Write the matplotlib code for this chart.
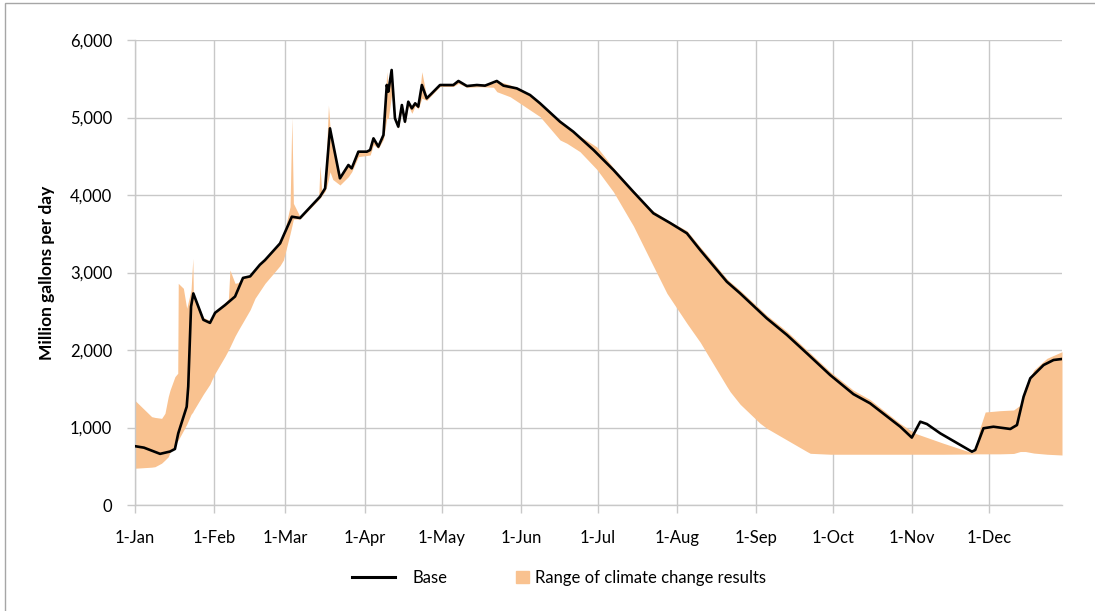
import matplotlib
matplotlib.use("Agg")
import matplotlib.pyplot as plt
from matplotlib.lines import Line2D
from matplotlib.patches import Rectangle, Patch
from matplotlib.ticker import FuncFormatter

plt.rcParams['font.family'] = ['Lato', 'DejaVu Sans']

# x = day of year (0 = 1-Jan)
month_days = [0, 31, 59, 90, 120, 151, 181, 212, 243, 273, 304, 334]
month_labels = ["1-Jan", "1-Feb", "1-Mar", "1-Apr", "1-May", "1-Jun",
                "1-Jul", "1-Aug", "1-Sep", "1-Oct", "1-Nov", "1-Dec"]

# ---base case flow
base_days = [0, 3.7, 10.0, 13.9, 15.8, 17.1, 20.4, 21.0, 22.1, 23.0,
             26.9, 29.5, 31.5, 35.4, 39.3, 42.4, 45.2, 49.0, 51.0, 56.9,
             61.5, 64.7, 72.5, 74.5, 76.4, 80.3, 83.6, 84.9, 87.5, 90.8,
             92.1, 93.4, 95.3, 97.3, 98.6, 99.2, 100.5, 101.8, 103.1, 104.5,
             105.7, 107.0, 108.4, 109.7, 110.9, 112.3, 114.2, 116.2, 119.4, 124.6,
             126.6, 129.9, 133.8, 137.0, 141.6, 144.2, 149.4, 154.6, 158.5, 166.3,
             171.5, 179.4, 187.2, 195.0, 202.8, 209.3, 215.9, 221.1, 231.5, 236.7,
             247.1, 255.0, 262.8, 271.9, 281.0, 287.5, 299.3, 303.8, 307.1, 309.7,
             314.9, 327.3, 328.6, 331.8, 335.7, 342.3, 344.9, 347.5, 350.1, 355.3,
             359.2, 362.5]
base_flow = [760, 740, 660, 690, 723, 925, 1268, 1527, 2560, 2730,
             2390, 2350, 2480, 2580, 2690, 2930, 2950, 3100, 3160, 3376,
             3720, 3703, 3978, 4086, 4860, 4215, 4387, 4344, 4559, 4559,
             4581, 4731, 4624, 4774, 5420, 5333, 5613, 4989, 4882, 5161,
             4946, 5204, 5118, 5183, 5140, 5419, 5247, 5312, 5419, 5419,
             5471, 5406, 5419, 5411, 5471, 5411, 5376, 5290, 5183, 4946,
             4817, 4581, 4323, 4040, 3764, 3640, 3506, 3290, 2881, 2731,
             2409, 2194, 1957, 1677, 1430, 1312, 1010, 870, 1075, 1045,
             925, 688, 710, 990, 1010, 981, 1032, 1398, 1635, 1806,
             1871, 1884]

# ---range of climate change results
band_days = [0, 6.7, 8.0, 10.6, 11.9, 13.2, 13.9, 15.8, 16.9, 17.1,
             19.1, 20.4, 22.1, 22.8, 23.0, 26.9, 29.5, 30.2, 31.5, 35.4,
             36.7, 37.3, 39.3, 40.6, 42.4, 45.2, 47.1, 51.0, 54.9, 56.9,
             58.2, 60.8, 61.5, 62.1, 64.7, 72.0, 72.5, 73.2, 74.5, 75.1,
             75.8, 76.4, 77.5, 80.3, 83.6, 84.9, 87.5, 90.8, 92.1, 93.4,
             95.3, 97.3, 98.6, 99.2, 100.5, 101.8, 103.1, 104.5, 105.7, 107.0,
             108.4, 109.7, 110.9, 112.3, 114.2, 116.2, 119.4, 124.6, 126.6, 129.9,
             135.0, 140.3, 141.6, 146.8, 150.7, 154.6, 158.5, 166.3, 169.0, 174.1,
             180.7, 187.2, 195.0, 201.6, 208.1, 215.9, 221.1, 223.7, 231.5, 232.8,
             236.7, 244.5, 247.1, 255.0, 262.8, 264.1, 271.9, 281.0, 287.5, 299.3,
             305.1, 316.2, 327.3, 328.5, 330.5, 332.5, 338.3, 343.6, 346.2, 348.2,
             351.5, 356.6, 362.5]
band_low = [474, 488, 494, 540, 580, 623, 680, 780, 830, 839,
            960, 1040, 1170, 1200, 1215, 1430, 1560, 1613, 1700, 1920,
            2000, 2040, 2180, 2258, 2360, 2520, 2667, 2860, 3011, 3090,
            3161, 3500, 3600, 3690, 3690, 3940, 3960, 3990, 4050, 4108,
            4200, 4300, 4200, 4129, 4237, 4300, 4495, 4510, 4516, 4650,
            4600, 4720, 4989, 4989, 5300, 4960, 4860, 5100, 4920, 5150,
            5054, 5150, 5110, 5250, 5220, 5290, 5400, 5400, 5440, 5390,
            5397, 5390, 5333, 5268, 5183, 5097, 5011, 4710, 4667, 4559,
            4330, 4040, 3600, 3161, 2731, 2344, 2100, 1957, 1530, 1462,
            1300, 1054, 990, 839, 690, 667, 655, 655, 655, 655,
            655, 655, 658, 660, 660, 660, 660, 665, 690, 690,
            670, 655, 645]
band_high = [1355, 1140, 1130, 1118, 1183, 1400, 1484, 1656, 1700, 2860,
             2796, 2538, 2774, 3183, 2731, 2420, 2380, 2420, 2500, 2610,
             2660, 3032, 2860, 2870, 2950, 2970, 3020, 3180, 3300, 3390,
             3470, 3849, 5000, 3892, 3720, 3980, 4380, 4040, 4100, 4600,
             5160, 4880, 4600, 4230, 4400, 4360, 4575, 4575, 4600, 4745,
             4640, 4790, 5591, 5350, 5620, 5000, 4900, 5170, 4960, 5210,
             5130, 5190, 5150, 5591, 5260, 5330, 5430, 5430, 5480, 5420,
             5430, 5440, 5475, 5420, 5370, 5300, 5200, 4960, 4880, 4760,
             4620, 4350, 4060, 3820, 3680, 3540, 3330, 3230, 2920, 2880,
             2770, 2530, 2450, 2240, 2000, 1960, 1720, 1480, 1360, 1050,
             925, 796, 675, 700, 1000, 1200, 1217, 1226, 1290, 1527,
             1742, 1892, 1978]

fig = plt.figure(figsize=(10.95, 6.11), dpi=100)
ax = fig.add_axes([134.5 / 1095, 106 / 611, (1062 - 134.5) / 1095, (505 - 40) / 611])

band_color = '#F9C290'
grid_color = '#C8C8C8'

ax.fill_between(band_days, band_low, band_high, color=band_color, lw=0, zorder=2)
ax.plot(base_days, base_flow, color='black', lw=1.9, zorder=3)

ax.set_xlim(0, 362.5)
ax.set_ylim(0, 6000)
ax.set_xticks(month_days)
ax.set_xticklabels(month_labels)
ax.set_yticks(range(0, 6001, 1000))
ax.yaxis.set_major_formatter(FuncFormatter(lambda v, p: f"{int(v):,}"))

ax.grid(True, color=grid_color, lw=1.0, zorder=0)
ax.set_axisbelow(True)
for s in ['top', 'right']:
    ax.spines[s].set_visible(False)
for s in ['left', 'bottom']:
    ax.spines[s].set_color(grid_color)
    ax.spines[s].set_linewidth(1.0)
ax.tick_params(axis='both', colors=grid_color, length=6, width=1.0, labelcolor='black', labelsize=12)
ax.tick_params(axis='x', pad=12)
ax.tick_params(axis='y', pad=10)

ax.set_ylabel("Million gallons per day", fontsize=12.5, fontweight='bold', labelpad=11)

# legend: two pieces so the square sits close to its text
leg_y = 1 - 578 / 611
fig.legend([Line2D([], [], color='black', lw=2.2)], ["Base"], loc='center left',
           bbox_to_anchor=(352 / 1095, leg_y), frameon=False, fontsize=12,
           handlelength=2.6, handletextpad=1.0, borderpad=0, borderaxespad=0)
fig.legend([Patch(color=band_color)], ["Range of climate change results"], loc='center left',
           bbox_to_anchor=(516 / 1095, leg_y), frameon=False, fontsize=12,
           handlelength=0.75, handleheight=0.75, handletextpad=0.4, borderpad=0, borderaxespad=0)

# chart-area border (left and top visible)
fig.patches.append(Rectangle((5 / 1095, -0.1), 1.2, 1 - 3 / 611 + 0.1, transform=fig.transFigure,
                             fill=False, edgecolor='#A6A6A6', lw=1.0))

fig.savefig("out.png", dpi=100)
